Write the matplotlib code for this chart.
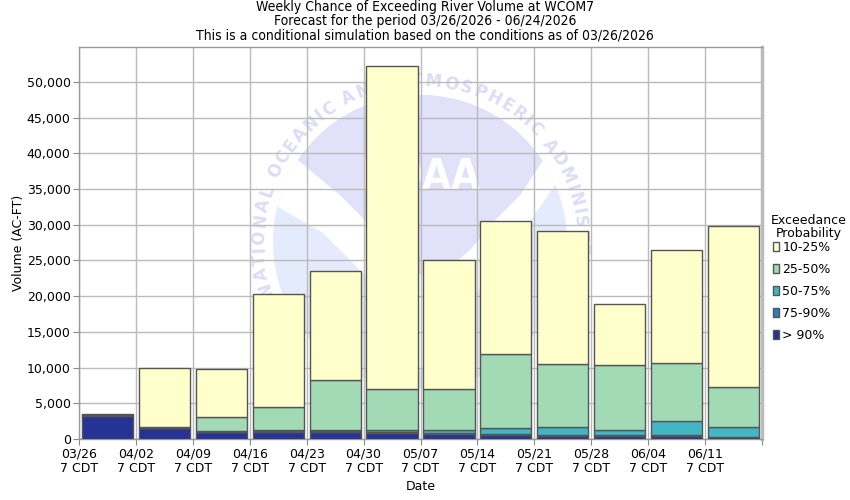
import matplotlib
matplotlib.use("Agg")
import matplotlib.pyplot as plt
from matplotlib.patches import Patch, Circle, Polygon
from matplotlib.transforms import Affine2D
from matplotlib.textpath import TextToPath
from matplotlib.font_manager import FontProperties
import numpy as np

weeks = ["03/26", "04/02", "04/09", "04/16", "04/23", "04/30",
         "05/07", "05/14", "05/21", "05/28", "06/04", "06/11"]
tick_labels = [w + "\n7 CDT" for w in weeks] + [""]

# cumulative exceedance values (AC-FT)
p90 = [3200, 1500, 1000, 1000, 1000, 850, 700, 560, 420, 420, 420, 280]
p75 = [3300, 1600, 1050, 1100, 1100, 950, 800, 650, 500, 500, 500, 350]
p50 = [3350, 1650, 1100, 1200, 1200, 1200, 1220, 1500, 1680, 1220, 2480, 1640]
p25 = [3400, 1700, 3050, 4450, 8250, 6960, 6960, 11900, 10460, 10300, 10640, 7240]
p10 = [3500, 9940, 9800, 20260, 23480, 52200, 25050, 30600, 29200, 18860, 26400, 29800]

layer_names = ["> 90%", "75-90%", "50-75%", "25-50%", "10-25%"]
layer_colors = ["#253494", "#2c7fb8", "#41b6c4", "#a1dab4", "#ffffcc"]

plt.rcParams['font.family'] = ['DejaVu Sans']
fig = plt.figure(figsize=(8.5, 5), dpi=100)
ax = fig.add_axes([79/850, 61/500, 683/850, 392/500])

# pixel coordinate transform (origin top-left) for the faint background logo
px = Affine2D().scale(1/850, -1/500).translate(0, 1) + fig.transFigure

# --- faint watermark logo (decoration) ---
cx, cy, R = 420, 242, 147
def cpt(a):
    a = np.radians(a)
    return (cx + R*np.cos(a), cy - R*np.sin(a))
ax.add_patch(Circle((cx, cy), R, transform=px, facecolor="#e3ebfc",
                    edgecolor="none", zorder=0.1))
lav_low = [(543, 160), (520, 195), (493, 222), (470, 250), (445, 271), (427, 278),
           (410, 268), (390, 250), (367, 222), (340, 195), (298, 160)]
arc_top = [cpt(a) for a in np.linspace(146, 34, 60)]
ax.add_patch(Polygon(arc_top + lav_low, closed=True, transform=px,
                     facecolor="#e1e1fa", edgecolor="none", zorder=0.2))
arc_l = [cpt(a) for a in np.linspace(146, 166, 10)]
low_v = [(323, 233), (367, 277), (395, 330), (420, 372), (445, 330),
         (470, 300), (493, 273), (533, 217)]
arc_r = [cpt(a) for a in np.linspace(23, 34, 6)]
ax.add_patch(Polygon(arc_l + low_v + arc_r + lav_low, closed=True, transform=px,
                     facecolor="white", edgecolor="none", zorder=0.15))
ax.text(421, 178, "NOAA", transform=px, ha="center", va="center", fontsize=30,
        fontweight="bold", stretch="condensed", color="white", zorder=0.3, clip_on=True)
ring = "NATIONAL OCEANIC AND ATMOSPHERIC ADMINISTRATION"
fp = FontProperties(family="DejaVu Sans", weight="bold", size=12)
ttp = TextToPath()
wid = np.array([ttp.get_text_width_height_descent(c, fp, ismath=False)[0] if c != " " else 5.0
                for c in ring])
cen = np.cumsum(wid) - wid / 2
ang = 197 - (cen - cen[0]) / (cen[-1] - cen[0]) * (197 + 27)
for ch, a in zip(ring, ang):
    r = 161
    x0 = cx + r*np.cos(np.radians(a))
    y0 = cy - r*np.sin(np.radians(a))
    ax.text(x0, y0, ch, transform=px, ha="center", va="center", fontproperties=fp,
            rotation=a - 90, color="#dcdcf6", zorder=0.3, clip_on=True,
            rotation_mode="anchor")

x = np.arange(len(weeks)) + 0.5
tops = [p90, p75, p50, p25, p10]
bottom = np.zeros(len(weeks))
edge = "#555555"
for vals, name, col in zip(tops, layer_names, layer_colors):
    vals = np.array(vals, dtype=float)
    ax.bar(x, vals - bottom, bottom=bottom, width=0.9, color=col,
           edgecolor=edge, linewidth=1.0, zorder=3, label=name)
    bottom = vals

ax.set_xlim(0, 12)
ax.set_ylim(0, 54900)
ax.set_xticks(np.arange(13))
ax.set_xticklabels(tick_labels, fontsize=9)
ax.set_yticks(np.arange(0, 55000, 5000))
ax.set_yticklabels([f"{v:,}" for v in range(0, 55000, 5000)], fontsize=9)
ax.grid(True, color="#bbbbbb", linewidth=1.0, zorder=1)
for s in ["left", "bottom", "top"]:
    ax.spines[s].set_color("#999999")
    ax.spines[s].set_linewidth(1.0)
ax.spines["right"].set_color("#bbbbbb")
ax.spines["right"].set_linewidth(2.5)
ax.tick_params(axis="both", direction="out", length=4, color="#888888", pad=2)
ax.set_xlabel("Date", fontsize=9, labelpad=3.5)
ax.set_ylabel("Volume (AC-FT)", fontsize=9, labelpad=1.5)

titles = ["Weekly Chance of Exceeding River Volume at WCOM7",
          "Forecast for the period 03/26/2026 - 06/24/2026",
          "This is a conditional simulation based on the conditions as of 03/26/2026"]
for t, yp in zip(titles, [7.5, 21.5, 35.5]):
    fig.text(425/850, 1 - yp/500, t, ha="center", va="center", fontsize=10,
             stretch="condensed")

fig.text(809/850, 1 - 227/500, "Exceedance\nProbability", ha="center", va="center",
         fontsize=9, multialignment="center", linespacing=1.1)
handles = [Patch(facecolor=c, edgecolor=edge, linewidth=1.0) for c in layer_colors][::-1]
labels = layer_names[::-1]
leg = fig.legend(handles, labels, loc="upper left", bbox_to_anchor=(773/850, 1 - 241/500),
                 frameon=False, fontsize=9, handlelength=0.45, handleheight=0.75,
                 handletextpad=0.3, labelspacing=0.72, borderaxespad=0, borderpad=0)

fig.savefig("out.png", dpi=100)
